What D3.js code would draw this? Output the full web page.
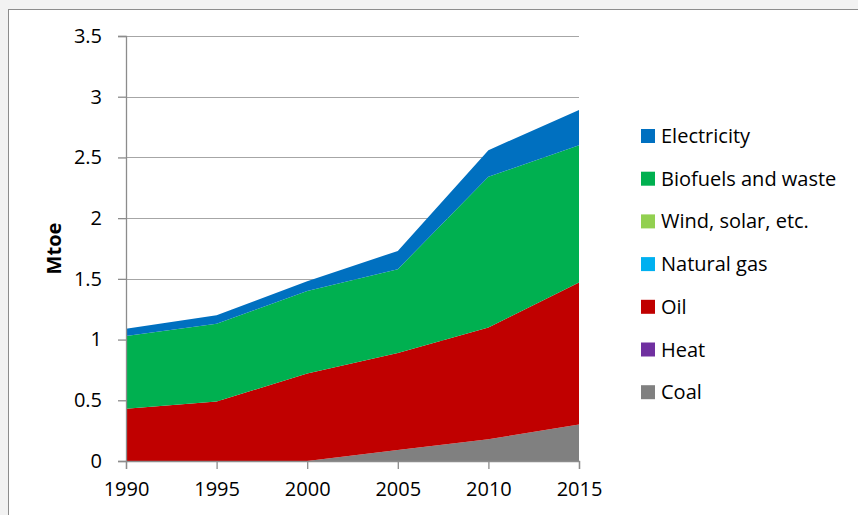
<!DOCTYPE html>
<html>
<head>
<meta charset="utf-8">
<script src="https://cdn.jsdelivr.net/npm/d3@7"></script>
<style>
  html, body { margin: 0; padding: 0; background: #f2f2f2; }
  svg { display: block; }
</style>
</head>
<body>
<svg id="chart" width="858" height="515"></svg>
<script>
// Final energy consumption by source, Mtoe
const years = [1990, 1995, 2000, 2005, 2010, 2015];
const coal        = [0, 0, 0, 0.09, 0.18, 0.30];
const heat        = [0, 0, 0, 0, 0, 0];
const oil         = [0.43, 0.49, 0.72, 0.80, 0.92, 1.17];
const naturalGas  = [0, 0, 0, 0, 0, 0];
const windSolar   = [0, 0, 0, 0, 0, 0];
const biofuels    = [0.60, 0.64, 0.68, 0.69, 1.24, 1.13];
const electricity = [0.06, 0.07, 0.08, 0.15, 0.22, 0.29];
const yTicks = [0, 0.5, 1, 1.5, 2, 2.5, 3, 3.5];

// stacking order, bottom to top
const series = [
  { key: "Coal", values: coal, color: "#808080" },
  { key: "Heat", values: heat, color: "#7030A0" },
  { key: "Oil", values: oil, color: "#C00000" },
  { key: "Natural gas", values: naturalGas, color: "#00B0F0" },
  { key: "Wind, solar, etc.", values: windSolar, color: "#92D050" },
  { key: "Biofuels and waste", values: biofuels, color: "#00B050" },
  { key: "Electricity", values: electricity, color: "#0070C0" }
];

const rows = years.map((yr, i) => {
  const r = { year: yr };
  series.forEach(s => r[s.key] = s.values[i]);
  return r;
});

const svg = d3.select("#chart");
const font = "'Open Sans', Lato, sans-serif";
const fontSize = 20;

// chart frame
svg.append("rect")
  .attr("x", 8.5).attr("y", 9.5)
  .attr("width", 900).attr("height", 600)
  .attr("fill", "#ffffff")
  .attr("stroke", "#8c8c8c").attr("stroke-width", 1);

const plotLeft = 126, plotRight = 579, plotTop = 36, plotBottom = 461;

const x = d3.scaleLinear().domain([1990, 2015]).range([plotLeft, plotRight]);
const y = d3.scaleLinear().domain([0, 3.5]).range([plotBottom, plotTop]);

// gridlines
svg.append("g").selectAll("line")
  .data(yTicks.filter(t => t > 0))
  .join("line")
  .attr("x1", plotLeft).attr("x2", plotRight)
  .attr("y1", d => Math.round(y(d)) + 0.5).attr("y2", d => Math.round(y(d)) + 0.5)
  .attr("stroke", "#a6a6a6").attr("stroke-width", 1.2);

// stacked areas
const stack = d3.stack().keys(series.map(s => s.key));
const layers = stack(rows);
const area = d3.area()
  .x(d => x(d.data.year))
  .y0(d => y(d[0]))
  .y1(d => y(d[1]));

svg.append("g").selectAll("path")
  .data(layers)
  .join("path")
  .attr("d", area)
  .attr("fill", (d, i) => series[i].color);

// axes
const yAxis = d3.axisLeft(y).tickValues(yTicks).tickSize(8).tickPadding(16)
  .tickFormat(d => d3.format("")(d));
const gy = svg.append("g").attr("transform", `translate(${plotLeft},0)`).call(yAxis);
gy.select(".domain").attr("stroke", "#8c8c8c").attr("stroke-width", 1.3);
gy.selectAll(".tick line").attr("stroke", "#8c8c8c").attr("stroke-width", 1.3);
gy.selectAll("text").attr("font-family", font).attr("font-size", fontSize).attr("fill", "#000");

const xAxis = d3.axisBottom(x).tickValues(years).tickSize(8).tickPadding(13)
  .tickFormat(d3.format("d"));
const gx = svg.append("g").attr("transform", `translate(0,${plotBottom})`).call(xAxis);
gx.select(".domain").attr("stroke", "#8c8c8c").attr("stroke-width", 1.3);
gx.selectAll(".tick line").attr("stroke", "#8c8c8c").attr("stroke-width", 1.3);
gx.selectAll("text").attr("font-family", font).attr("font-size", fontSize).attr("fill", "#000");

// y axis title
svg.append("text")
  .attr("transform", `translate(61,${(plotTop + plotBottom) / 2}) rotate(-90)`)
  .attr("text-anchor", "middle")
  .attr("font-family", font).attr("font-size", fontSize).attr("font-weight", "bold")
  .text("Mtoe");

// legend, top to bottom in reverse stacking order
const legend = svg.append("g");
const legendItems = series.slice().reverse();
const lg = legend.selectAll("g")
  .data(legendItems)
  .join("g")
  .attr("transform", (d, i) => `translate(641,${136 + i * 42.7})`);
lg.append("rect")
  .attr("x", 0).attr("y", -7)
  .attr("width", 14).attr("height", 14)
  .attr("fill", d => d.color);
lg.append("text")
  .attr("x", 20).attr("y", 0).attr("dy", "0.35em")
  .attr("font-family", font).attr("font-size", fontSize)
  .text(d => d.key);
</script>
</body>
</html>
